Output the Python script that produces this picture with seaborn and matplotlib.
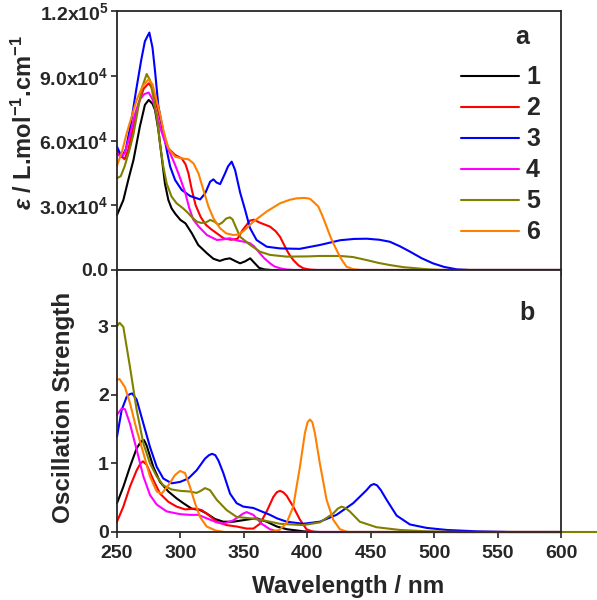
import numpy as np
import pandas as pd
import matplotlib
matplotlib.use("Agg")
import matplotlib.pyplot as plt
import seaborn as sns

# --- (a) absorption spectra, epsilon in units of 1e4 L/mol/cm ---
wl_abs_1 = [250, 255, 259, 263, 268, 272, 275, 278, 280, 282.6, 285.2, 287.8, 290.5, 293, 296, 300,
            304, 309, 314, 321, 326, 331, 335, 339, 343, 347, 351, 355, 358, 362, 366, 372, 600]
eps_1 = [2.55, 3.24, 4.2, 5.1, 6.64, 7.65, 7.88, 7.7, 7.41, 6.49, 5.25, 4.0, 3.24, 2.86, 2.6, 2.32,
         2.16, 1.7, 1.16, 0.77, 0.52, 0.42, 0.5, 0.54, 0.42, 0.31, 0.4, 0.54, 0.35, 0.1, 0.03, 0, 0]

wl_abs_2 = [250, 253, 256, 259, 263, 267, 271, 275, 278, 281, 284, 287, 290.5, 295.8, 301, 304,
            306.3, 309, 312, 316, 320, 324, 334, 340, 345, 349, 354.8, 358, 362.7, 370.6, 375,
            378.5, 381, 383.7, 386, 389, 393, 396.8, 402, 408, 600]
eps_2 = [5.56, 5.3, 5.13, 5.6, 6.64, 7.7, 8.4, 8.65, 8.4, 7.7, 7.0, 6.2, 5.64, 5.33, 5.17, 4.9,
         4.48, 3.71, 3.0, 2.45, 2.1, 1.9, 1.47, 1.4, 1.45, 1.85, 2.29, 2.33, 2.19, 2.01, 1.8,
         1.54, 1.25, 0.93, 0.7, 0.46, 0.22, 0.08, 0.02, 0, 0]

wl_abs_3 = [250, 252, 254, 257, 261, 265, 269, 272, 275.5, 278, 280, 282.6, 286.5, 289.2, 291.9,
            295.8, 301, 307.6, 315.5, 319.5, 323.4, 326, 328.5, 331.3, 335.2, 337.5, 340.4, 343.1,
            347, 351, 354.8, 360, 368, 378.5, 394, 410, 426, 437, 447, 457, 465, 473, 481, 490,
            499, 508, 518, 528, 600]
eps_3 = [5.71, 5.45, 5.25, 5.6, 6.8, 8.3, 9.7, 10.6, 11.0, 10.3, 9.2, 7.6, 6.4, 5.56, 4.79,
         4.17, 3.71, 3.43, 3.27, 3.55, 4.09, 4.2, 4.05, 3.98, 4.48, 4.8, 5.02, 4.63,
         3.6, 2.78, 1.95, 1.39, 1.08, 1.0, 0.98, 1.16, 1.38, 1.44, 1.45, 1.4, 1.31, 1.1, 0.85, 0.55,
         0.31, 0.14, 0.03, 0, 0]

wl_abs_4 = [250, 253, 256, 260, 264, 268, 271.5, 275, 278, 281, 284, 288, 291.9, 295.8, 299.8,
            303.7, 307, 310, 314.4, 320.9, 328.8, 334, 339, 344.6, 350, 354.8, 358, 362.7, 366,
            370.6, 374, 378.5, 384, 390, 600]
eps_4 = [5.37, 5.25, 5.4, 6.2, 7.2, 7.9, 8.15, 8.22, 7.9, 7.3, 6.6, 5.9, 5.41, 4.87, 4.25,
         3.6, 2.86, 2.35, 2.01, 1.62, 1.39, 1.42, 1.47, 1.37, 1.31, 1.24, 1.1, 0.77, 0.55,
         0.31, 0.17, 0.08, 0.02, 0, 0]

wl_abs_5 = [250, 253, 256, 260, 263, 267, 270, 273.4, 276, 279, 282, 284, 286.5, 289.2, 293, 297,
            302, 305, 309, 313, 316.5, 320, 323.5, 326.5, 330, 333, 336, 339, 341, 343, 347, 351,
            355, 362.7, 370.6, 383.7, 400, 410, 426, 436, 446.8, 456, 465, 476, 486, 495, 505, 600]
eps_5 = [4.25, 4.35, 4.8, 5.6, 6.3, 7.6, 8.5, 9.08, 8.8, 7.9, 6.8, 5.8, 4.79, 4.0, 3.4, 3.09,
         2.86, 2.7, 2.45, 2.24, 2.18, 2.2, 2.32, 2.25, 2.1, 2.2, 2.38, 2.44, 2.35, 2.08, 1.54, 1.35,
         1.16, 0.85, 0.7, 0.62, 0.63, 0.65, 0.65, 0.6, 0.46, 0.33, 0.23, 0.13, 0.08, 0.03, 0, 0]

wl_abs_6 = [250, 254, 257.6, 261, 265.5, 270, 275, 278, 281, 284, 286.5, 290.5, 295.8, 301, 306.3,
            310.3, 314.2, 318.1, 322.1, 326, 331, 336, 341.7, 346, 349.6, 357.5, 368, 378.5, 386,
            391.6, 398, 402.1, 405, 408.7, 412, 415.2, 418.5, 421.8, 425.7, 428, 431, 436, 442, 600]
eps_6 = [4.83, 5.5, 6.33, 7.0, 7.88, 8.5, 8.84, 8.6, 7.9, 7.2, 6.49, 5.64, 5.25, 5.17, 5.13,
         4.94, 4.48, 3.71, 2.94, 2.4, 1.95, 1.7, 1.62, 1.65, 1.8, 2.24, 2.71, 3.09, 3.25,
         3.32, 3.34, 3.3, 3.15, 2.94, 2.5, 2.01, 1.5, 1.08, 0.62, 0.4, 0.15, 0.04, 0, 0]

# --- (b) calculated oscillator strengths (broadened) ---
wl_osc_1 = [250, 255, 260.2, 265.5, 269, 271.3, 273.4, 278.6, 283.9, 290.5, 297, 302.3, 308.9, 315.4,
            320.7, 327.2, 333.8, 341.7, 352.2, 360.1, 368, 376, 384, 397, 410, 600]
f_1 = [0.42, 0.66, 0.95, 1.22, 1.32, 1.34, 1.26, 0.95, 0.73, 0.59, 0.49, 0.42, 0.34, 0.32,
       0.27, 0.19, 0.15, 0.15, 0.18, 0.2, 0.15, 0.08, 0.04, 0.01, 0, 0]

wl_osc_2 = [250, 255, 260.2, 265.5, 268.5, 270.5, 273.4, 278.6, 283.9, 290.5, 297, 303.6, 311.5, 316.7,
            322, 328.6, 336.4, 344.3, 352.2, 357.5, 362.7, 368, 373.2, 376, 378.4, 381, 383.7, 388.9,
            394.2, 399.4, 405, 600]
f_2 = [0.15, 0.37, 0.66, 0.9, 1.0, 1.03, 0.98, 0.76, 0.56, 0.44, 0.37, 0.33, 0.34, 0.32,
       0.25, 0.15, 0.1, 0.08, 0.05, 0.05, 0.12, 0.3, 0.51, 0.58, 0.6, 0.58, 0.53, 0.37,
       0.18, 0.04, 0, 0]

wl_osc_3 = [250, 253.7, 257.6, 260, 262, 265.5, 270.8, 276, 281.3, 286.5, 293.1, 299.7, 306.2, 312.8,
            319.4, 322.5, 325, 327.5, 330, 333.8, 339.1, 344.3, 349.6, 357.5, 364, 370.6, 376, 383.7,
            396.8, 409.9, 423, 436.2, 446.7, 450, 452.5, 455, 458, 462.5, 470.4, 480.9, 494, 509.8,
            533.4, 560, 600]
f_3 = [1.39, 1.78, 1.97, 2.01, 2.02, 1.93, 1.58, 1.24, 0.95, 0.78, 0.71, 0.73, 0.78, 0.9,
       1.07, 1.12, 1.14, 1.12, 1.04, 0.86, 0.56, 0.42, 0.37, 0.35, 0.3, 0.25, 0.2, 0.15,
       0.12, 0.15, 0.25, 0.42, 0.61, 0.68, 0.7, 0.68, 0.61, 0.47, 0.24, 0.11, 0.06, 0.03,
       0.01, 0, 0]

wl_osc_4 = [250, 253.7, 256.3, 260.2, 265.5, 270.8, 276, 281.3, 289.2, 299.7, 307.5, 314.1, 320.7,
            328.6, 333.8, 341.7, 349.6, 352.2, 357.5, 364, 370.6, 378, 600]
f_4 = [1.71, 1.8, 1.79, 1.58, 1.2, 0.81, 0.54, 0.4, 0.3, 0.26, 0.25, 0.25, 0.2,
       0.14, 0.12, 0.17, 0.27, 0.29, 0.25, 0.12, 0.04, 0, 0]

wl_osc_5 = [250, 252, 255, 260.2, 265.5, 270.8, 276, 281.3, 286.5, 293.1, 299.7, 307.5, 312.8, 316,
            319.4, 323.3, 328.6, 336.4, 344.3, 354.8, 365.3, 378.4, 396.8, 409.9, 420.4, 424, 427,
            430, 433.5, 441.4, 454.5, 472.9, 494, 520, 640]
f_5 = [3.0, 3.05, 2.99, 2.41, 1.78, 1.29, 1.0, 0.81, 0.68, 0.62, 0.6, 0.59, 0.57, 0.6,
       0.64, 0.61, 0.47, 0.32, 0.22, 0.2, 0.17, 0.12, 0.1, 0.14, 0.27, 0.34, 0.37,
       0.35, 0.3, 0.15, 0.07, 0.03, 0.01, 0, 0]

wl_osc_6 = [250, 252, 256.3, 260.2, 265.5, 270.8, 276, 281.3, 285.2, 290.5, 295.7, 299.7, 303.6,
            307.5, 311.5, 315.4, 320.7, 328, 335, 370, 378, 383.7, 388.9, 394.2, 398.1, 400.2, 402.1,
            404, 406, 409.9, 415.2, 420.4, 425.7, 432, 597]
f_6 = [2.22, 2.23, 2.11, 1.88, 1.49, 1.15, 0.81, 0.59, 0.56, 0.68, 0.83, 0.89, 0.86,
       0.66, 0.42, 0.22, 0.08, 0.02, 0, 0, 0.03, 0.13, 0.37, 0.95, 1.44, 1.6, 1.64,
       1.6, 1.44, 1.0, 0.47, 0.18, 0.04, 0, 0]

labels = ["1", "2", "3", "4", "5", "6"]
colors = ["#000000", "#FF0000", "#0000FF", "#FF00FF", "#808000", "#FF8000"]


def make_frame(xs, ys, scale=1.0):
    """ собираем длинную таблицу для seaborn """
    parts = []
    for lab, x, y in zip(labels, xs, ys):
        parts.append(pd.DataFrame({"wl": x, "val": np.array(y) * scale, "cmp": lab}))
    return pd.concat(parts, ignore_index=True)


def style_axis(ax):
    for sp in ax.spines.values():
        sp.set_linewidth(1.3)
    ax.tick_params(direction="out", length=4, width=1.2, labelsize=14,
                   top=False, right=False)
    ax.tick_params(axis="y", pad=2)
    ax.tick_params(axis="x", pad=5)
    for lab in ax.get_xticklabels() + ax.get_yticklabels():
        lab.set_fontweight("bold")


sns.set_style("ticks")
plt.rcParams["font.family"] = ["Liberation Sans", "DejaVu Sans"]
plt.rcParams["font.weight"] = "bold"
plt.rcParams["mathtext.fontset"] = "custom"
plt.rcParams["mathtext.rm"] = "Liberation Sans:bold"
plt.rcParams["mathtext.it"] = "Liberation Sans:italic:bold"
plt.rcParams["mathtext.bf"] = "Liberation Sans:bold"

fig = plt.figure(figsize=(5.97, 6.0), dpi=100)
ax1 = fig.add_axes([117 / 597, 330 / 600, 444 / 597, 259 / 600])
ax2 = fig.add_axes([117 / 597, 68 / 600, 444 / 597, 262 / 600])

# панель a
abs_df = make_frame([wl_abs_1, wl_abs_2, wl_abs_3, wl_abs_4, wl_abs_5, wl_abs_6],
                    [eps_1, eps_2, eps_3, eps_4, eps_5, eps_6], scale=1e4)
sns.lineplot(data=abs_df, x="wl", y="val", hue="cmp", palette=colors, estimator=None,
             sort=False, lw=1.5, legend=False, ax=ax1)
ax1.set_xlim(250, 600)
ax1.set_ylim(0, 120000)
ax1.set_xticks([250, 300, 350, 400, 450, 500, 550, 600])
ax1.set_xticklabels([])
ax1.set_yticks([0, 30000, 60000, 90000, 120000])
ax1.set_yticklabels(["0.0", "3.0x10$^4$", "6.0x10$^4$", "9.0x10$^4$", "1.2x10$^5$"])
ax1.set_xlabel("")
ax1.set_ylabel(r"$\varepsilon$ / L.mol$^{-1}$.cm$^{-1}$", fontsize=17, fontweight="bold")
ax1.yaxis.set_label_coords(-0.18, 0.57)
style_axis(ax1)
for ln in ax1.lines:
    ln.set_clip_on(False)
ax1.legend(ax1.lines, labels, loc="upper left", bbox_to_anchor=(0.775, 0.79), frameon=False,
           borderpad=0, borderaxespad=0, handlelength=2.3, handletextpad=0.3, labelspacing=0.28,
           prop={"size": 18, "weight": "bold"})
ax1.text(0.912, 0.9, "a", transform=ax1.transAxes, ha="center", va="center",
         fontsize=18, fontweight="bold")

# панель b
osc_df = make_frame([wl_osc_1, wl_osc_2, wl_osc_3, wl_osc_4, wl_osc_5, wl_osc_6],
                    [f_1, f_2, f_3, f_4, f_5, f_6])
sns.lineplot(data=osc_df, x="wl", y="val", hue="cmp", palette=colors, estimator=None,
             sort=False, lw=1.5, legend=False, ax=ax2)
ax2.set_xlim(250, 600)
ax2.set_ylim(0, 3.82)
ax2.set_xticks([250, 300, 350, 400, 450, 500, 550, 600])
ax2.set_yticks([0, 1, 2, 3])
ax2.set_xlabel("Wavelength / nm", fontsize=17.5, fontweight="bold")
ax2.set_ylabel("Oscillation Strength", fontsize=17.5, fontweight="bold")
ax2.yaxis.set_label_coords(-0.095, 0.477)
ax2.xaxis.set_label_coords(0.52, -0.165)
style_axis(ax2)
for ln in ax2.lines:
    ln.set_clip_on(False)
ax2.text(0.923, 0.836, "b", transform=ax2.transAxes, ha="center", va="center",
         fontsize=18, fontweight="bold")

fig.savefig("out.png", dpi=100)
